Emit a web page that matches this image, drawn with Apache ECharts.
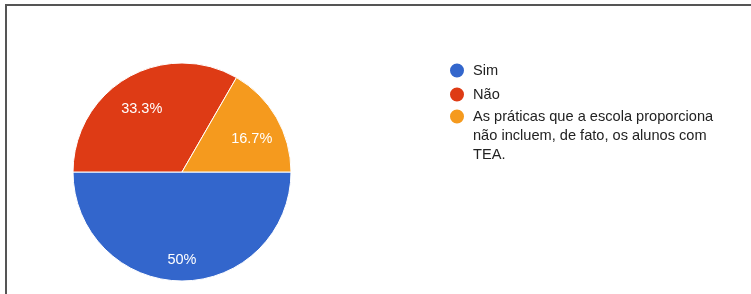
<!DOCTYPE html>
<html>
<head>
<meta charset="utf-8">
<script src="https://cdn.jsdelivr.net/npm/echarts@6/dist/echarts.min.js"></script>
<style>
  html, body { margin: 0; padding: 0; background: #fff; }
  #frame {
    position: absolute; left: 5px; top: 4px; width: 746px; height: 290px;
    border-left: 2px solid #555; border-top: 2px solid #555;
  }
  #chart { position: absolute; left: 0; top: 0; width: 751px; height: 294px; }
</style>
</head>
<body>
<div id="frame"></div>
<div id="chart"></div>
<script>
  // answers and counts
  const categories = [
    'Sim',
    'Não',
    'As práticas que a escola proporciona não incluem, de fato, os alunos com TEA.'
  ]
  const counts = [3, 2, 1]
  const colors = ['#3366cc', '#de3b15', '#f59a1e']

  // wrapped legend text for the long answer (two leading blank lines keep
  // the first line level with the icon)
  const legendText = {
    [categories[2]]: '\n\nAs práticas que a escola proporciona\nnão incluem, de fato, os alunos com\nTEA.'
  }

  const data = categories.map((name, i) => ({ name, value: counts[i] }))

  const chart = echarts.init(document.getElementById('chart'))

  const legendBase = {
    orient: 'vertical',
    left: 448,
    padding: 0,
    icon: 'circle',
    itemWidth: 22,
    itemHeight: 16,
    selectedMode: false,
    textStyle: { fontFamily: 'Liberation Sans, Arial', fontSize: 14.6, color: '#222', lineHeight: 19 },
    formatter: name => legendText[name] || name
  }

  chart.setOption({
    color: colors,
    animation: false,
    legend: [
      Object.assign({}, legendBase, {
        top: 61,
        itemGap: 5,
        data: categories.slice(0, 2)
      }),
      Object.assign({}, legendBase, {
        top: 69,
        data: categories.slice(2)
      })
    ],
    series: [
      {
        type: 'pie',
        center: [182, 172],
        radius: [0, 109],
        startAngle: 0,
        clockwise: true,
        percentPrecision: 1,
        data: data,
        itemStyle: { borderColor: '#fff', borderWidth: 1 },
        label: { show: false },
        labelLine: { show: false },
        emphasis: { disabled: true }
      },
      {
        // transparent ring only to place the percentage labels further out
        type: 'pie',
        center: [182, 172],
        radius: [46, 109],
        startAngle: 0,
        clockwise: true,
        percentPrecision: 1,
        silent: true,
        data: data,
        itemStyle: { color: 'transparent' },
        label: {
          show: true,
          position: 'inside',
          // leading blank line drops the text a little below the slice centre
          formatter: '\n{d}%',
          lineHeight: 14,
          color: '#fff',
          fontFamily: 'Liberation Sans, Arial',
          fontSize: 14.5
        },
        labelLine: { show: false },
        emphasis: { disabled: true }
      }
    ]
  })
</script>
</body>
</html>
